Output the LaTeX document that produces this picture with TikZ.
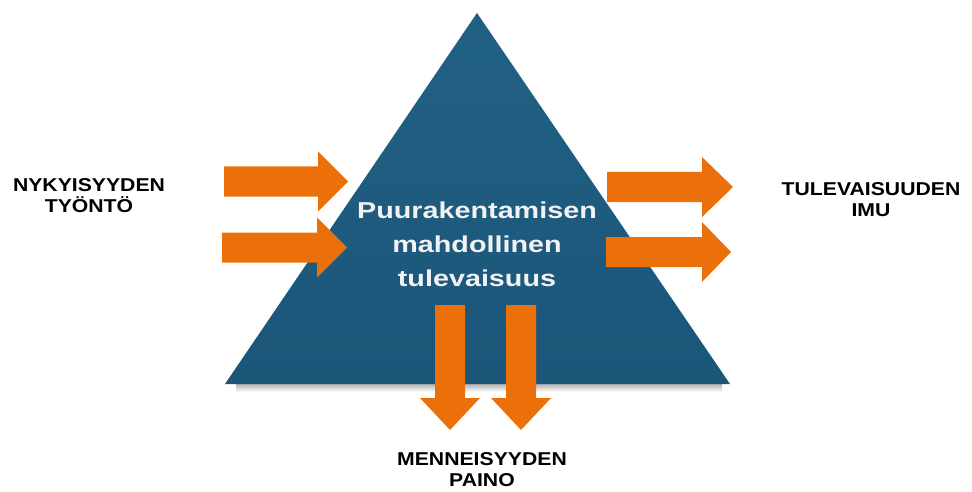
\documentclass[tikz,border=0pt]{standalone}
\usepackage{fontspec}
\setmainfont{Liberation Sans}
\newfontfamily\lblfont{Liberation Sans}[FakeStretch=1.14]
\newfontfamily\midfont{Liberation Sans}[FakeStretch=1.25]
\usepackage{tikz}
\usetikzlibrary{positioning}
\usepackage{xcolor}
\definecolor{futblue}{RGB}{31,93,130}
\definecolor{futblueLo}{RGB}{27,86,121}
\definecolor{futblueHi}{RGB}{33,96,133}
\definecolor{futorange}{RGB}{236,112,10}
\tikzset{
  arrfill/.style={fill=futorange},
  sidelabel/.style={font=\lblfont\bfseries\fontsize{18.6}{21}\selectfont, align=center, inner sep=0pt, text=black},
  midlabel/.style={font=\midfont\bfseries\fontsize{23}{34}\selectfont, align=center, inner sep=0pt, text=white!95!black}
}
% block arrows: start, neck, tip, centre line
\newcommand{\rightarr}[4]{\fill[arrfill] (#1,#4-15) -- (#2,#4-15) -- (#2,#4-30) -- (#3,#4) -- (#2,#4+30) -- (#2,#4+15) -- (#1,#4+15) -- cycle;}
\newcommand{\downarr}[4]{\fill[arrfill] (#4-15,#1) -- (#4-15,#2) -- (#4-30,#2) -- (#4,#3) -- (#4+30,#2) -- (#4+15,#2) -- (#4+15,#1) -- cycle;}

\begin{document}
\begin{tikzpicture}[x=1pt,y=-1pt]
\useasboundingbox (0,0) rectangle (972,492);

% Triangle
\coordinate (apex) at (477,13);
\coordinate (baseL) at (225,384);
\coordinate (baseR) at (730,384);
\shade[top color=white!40!gray, bottom color=white] (236,384) rectangle (722,392);
\shade[top color=futblueHi, bottom color=futblueLo] (apex) -- (baseR) -- (baseL) -- cycle;

% Arrows in from the left
\rightarr{224}{318}{348}{181.5}
\rightarr{222}{317}{347}{247.5}

% Arrows out to the right
\rightarr{607}{702}{733}{187}
\rightarr{606}{702}{731}{252}

% Arrows down
\downarr{305}{398}{430}{450}
\downarr{305}{398}{430}{521}

% Labels
\node[midlabel] (core) at (477,244) {Puurakentamisen\\mahdollinen\\tulevaisuus};
\node[sidelabel] (push) at (89,196) {NYKYISYYDEN\\TYÖNTÖ};
\node[sidelabel] (pull) at (871,200) {TULEVAISUUDEN\\IMU};
\node[sidelabel] (weight) at (482,470) {MENNEISYYDEN\\PAINO};
\end{tikzpicture}
\end{document}
